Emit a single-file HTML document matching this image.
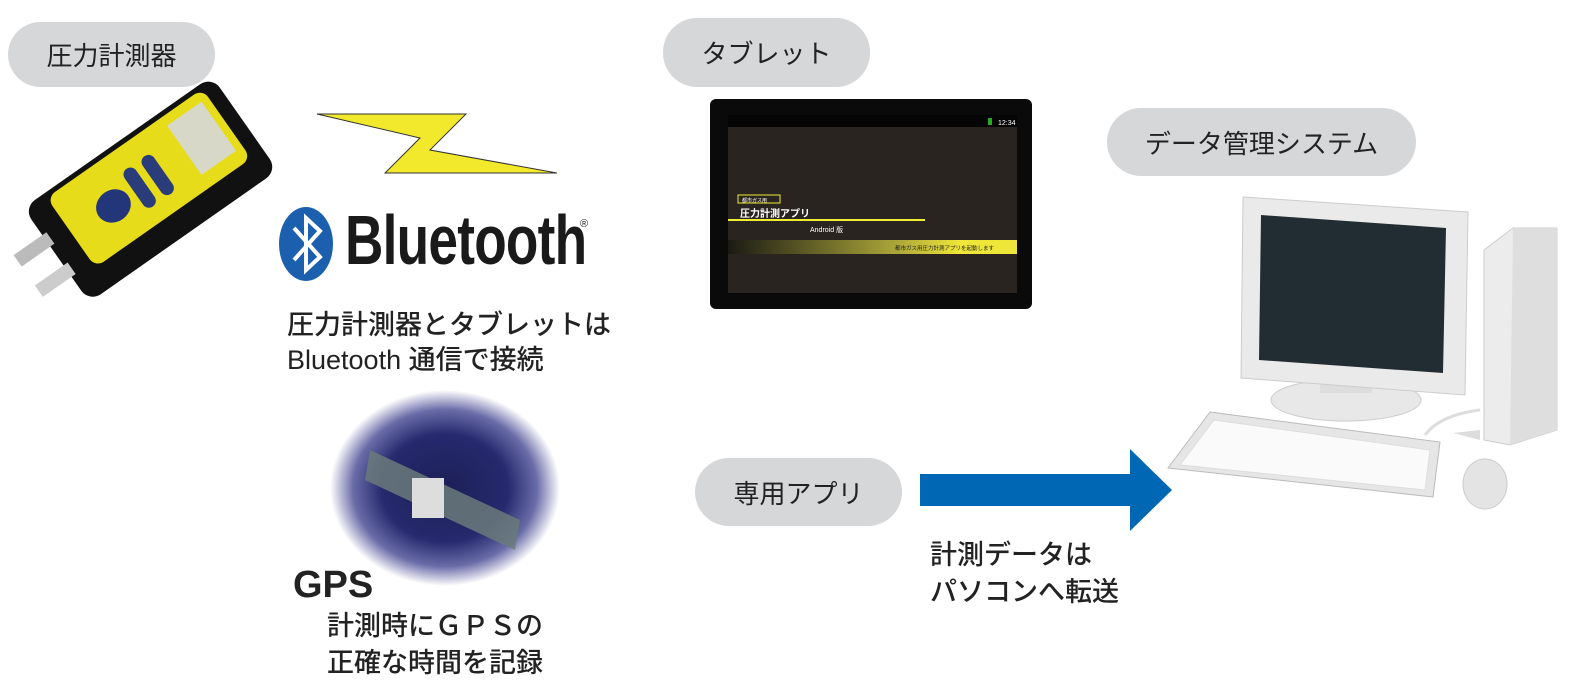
<!DOCTYPE html>
<html><head><meta charset="utf-8"><style>
body{margin:0;width:1572px;height:695px;background:#fff;position:relative;overflow:hidden;font-family:"Liberation Sans","Noto Sans CJK JP",sans-serif;color:#222}
.pill{position:absolute;background:#d5d7d9;border-radius:34px;display:flex;align-items:center;justify-content:center;font-size:26px;color:#222}
.t{position:absolute;font-size:27px;white-space:nowrap;line-height:1;font-weight:500}
</style></head><body>
<div class="pill" style="left:8px;top:22px;width:207px;height:65px">圧力計測器</div>
<div class="pill" style="left:663px;top:18px;width:207px;height:69px">タブレット</div>
<div class="pill" style="left:1107px;top:108px;width:309px;height:68px">データ管理システム</div>
<div class="pill" style="left:695px;top:458px;width:207px;height:68px">専用アプリ</div>

<svg width="1572" height="695" style="position:absolute;left:0;top:0">
<defs>
<radialGradient id="g" cx="50%" cy="50%" r="50%">
<stop offset="0" stop-color="#1c1f55"/><stop offset="0.55" stop-color="#262a6e"/><stop offset="0.8" stop-color="#6a6ca8"/><stop offset="1" stop-color="#fff"/></radialGradient>
<linearGradient id="y" x1="0" x2="1"><stop offset="0" stop-color="#1a1a14"/><stop offset="0.6" stop-color="#b0aa3a"/><stop offset="0.8" stop-color="#eee638"/></linearGradient>
</defs>
<!-- device -->
<g transform="rotate(-35 145 190)">
<rect x="35" y="135" width="230" height="115" rx="14" fill="#111"/>
<rect x="60" y="140" width="190" height="85" rx="10" fill="#e7dc1a"/>
<rect x="200" y="150" width="42" height="60" fill="#d8d8c8"/>
<ellipse cx="110" cy="185" rx="18" ry="16" fill="#24367a"/>
<rect x="135" y="162" width="14" height="46" rx="7" fill="#2a3c7a"/>
<rect x="157" y="162" width="14" height="46" rx="7" fill="#2a3c7a"/>
<rect x="0" y="168" width="40" height="14" fill="#bbb"/><rect x="0" y="205" width="40" height="14" fill="#ccc"/>
</g>
<!-- lightning -->
<polygon points="317,114 466,114 430,150 557,173 385,173 420,138" fill="#f2e92c" stroke="#333" stroke-width="1"/>
<!-- bluetooth logo -->
<ellipse cx="306" cy="244" rx="27" ry="37" fill="#1b5fae"/>
<polyline points="294,228 320,257 306,270 306,218 320,231 294,260" fill="none" stroke="#fff" stroke-width="4"/>
<!-- GPS blob -->
<ellipse cx="445" cy="488" rx="115" ry="98" fill="url(#g)"/>
<polygon points="370,450 520,520 515,550 365,480" fill="#6a7a7a" opacity="0.85"/>
<rect x="412" y="478" width="32" height="40" fill="#ddd"/>
<!-- tablet -->
<rect x="710" y="99" width="322" height="210" rx="6" fill="#0a0a0a"/>
<rect x="728" y="115" width="289" height="178" fill="#2a2420"/>
<rect x="728" y="115" width="289" height="12" fill="#050505"/>
<text x="998" y="125" font-size="7" fill="#fff" font-family="Liberation Sans">12:34</text>
<rect x="988" y="118" width="4" height="7" fill="#2a2"/>
<rect x="738" y="195" width="42" height="8" fill="none" stroke="#ee3" stroke-width="1"/>
<text x="742" y="202" font-size="5" fill="#fff">都市ガス用</text>
<text x="740" y="217" font-size="10" fill="#fff" font-weight="bold">圧力計測アプリ</text>
<rect x="728" y="219" width="197" height="2" fill="#ee3"/>
<text x="810" y="232" font-size="7" fill="#fff">Android 版</text>
<rect x="728" y="240" width="289" height="14" fill="url(#y)"/>
<text x="895" y="250" font-size="5.5" fill="#222">都市ガス用圧力計測アプリを起動します</text>
<!-- arrow -->
<polygon points="920,474 1130,474 1130,449 1172,490 1130,531 1130,506 920,506" fill="#0067b5"/>
<!-- computer -->
<ellipse cx="1346" cy="400" rx="75" ry="21" fill="#e8e8e8" stroke="#ccc"/>
<rect x="1320" y="375" width="52" height="18" fill="#ddd"/>
<polygon points="1243,197 1468,212 1465,395 1241,378" fill="#eaeaea" stroke="#ccc"/>
<polygon points="1261,215 1446,228 1443,373 1259,360" fill="#222c33"/>
<path d="M1425,435 Q1440,415 1480,410" fill="none" stroke="#ddd" stroke-width="3"/>
<polygon points="1484,250 1513,228 1557,228 1557,430 1510,445 1484,440" fill="#ececec" stroke="#ccc"/>
<polygon points="1513,228 1557,228 1557,430 1510,445" fill="#dedede"/>
<polygon points="1453,433 1480,430 1480,440" fill="#ddd"/>
<polygon points="1210,412 1440,442 1433,497 1168,468" fill="#e6e6e6" stroke="#bbb"/>
<polygon points="1214,420 1430,450 1425,490 1180,465" fill="#fafafa" stroke="#ddd"/>
<ellipse cx="1485" cy="484" rx="22" ry="25" fill="#e4e4e4" stroke="#ccc"/>
</svg>

<div style="position:absolute;left:345px;top:200px;font-size:70px;font-weight:bold;font-family:'Liberation Sans',sans-serif;transform:scaleX(0.76);transform-origin:left;letter-spacing:-1px;color:#1a1a1a">Bluetooth</div>
<div style="position:absolute;left:580px;top:218px;font-size:11px">®</div>
<div class="t" style="left:287px;top:312px">圧力計測器とタブレットは</div>
<div class="t" style="left:287px;top:347px">Bluetooth 通信で接続</div>
<div class="t" style="left:293px;top:566px;font-size:38px;font-weight:bold">GPS</div>
<div class="t" style="left:327px;top:613px">計測時にＧＰＳの</div>
<div class="t" style="left:327px;top:650px">正確な時間を記録</div>
<div class="t" style="left:930px;top:542px">計測データは</div>
<div class="t" style="left:930px;top:579px">パソコンへ転送</div>
</body></html>
